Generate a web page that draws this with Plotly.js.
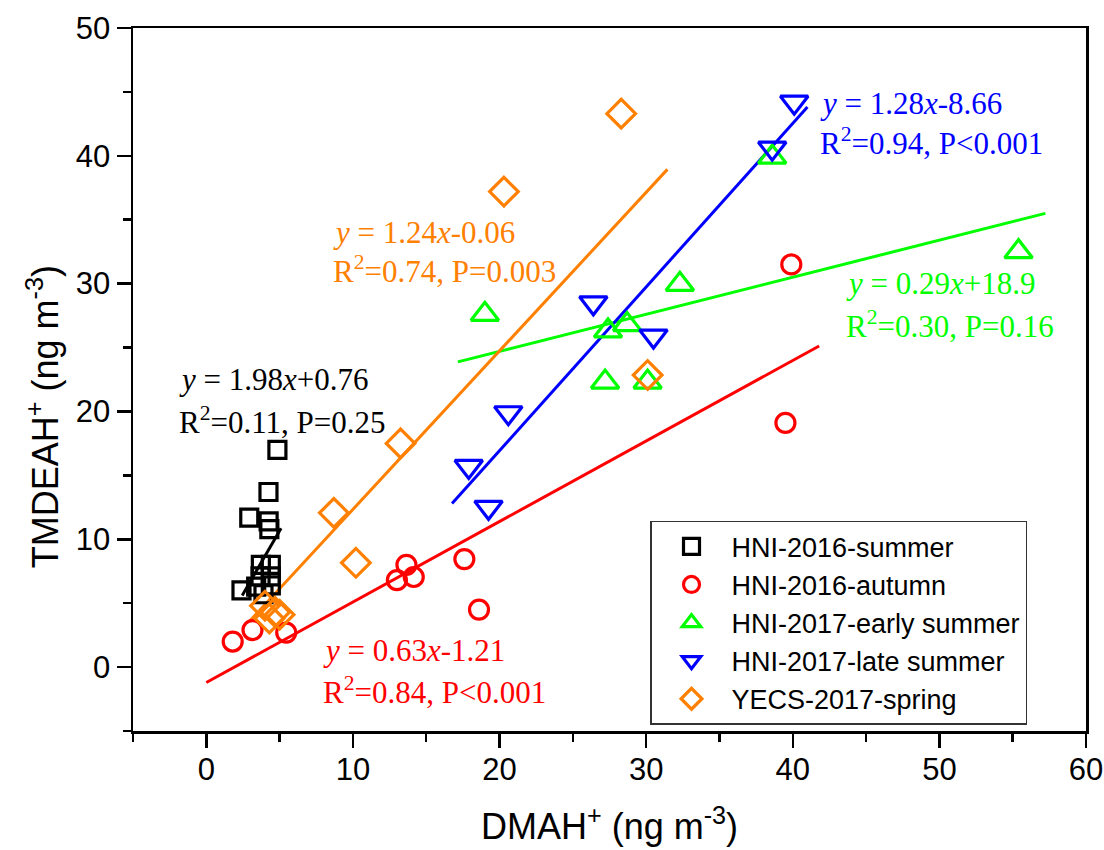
<!DOCTYPE html>
<html>
<head>
<meta charset="utf-8">
<script src="https://cdn.plot.ly/plotly-3.0.1.min.js"></script>
<style>html,body{margin:0;padding:0;background:#fff;}#chart{width:1104px;height:850px;}</style>
</head>
<body>
<div id="chart"></div>
<script>
// ---- Data ----
const seriesNames = ["HNI-2016-summer", "HNI-2016-autumn", "HNI-2017-early summer", "HNI-2017-late summer", "YECS-2017-spring"];

const summer16X = [4.85, 4.24, 2.93, 4.25, 4.3, 3.72, 4.4, 3.7, 4.4, 2.4, 3.4, 4.4, 3.9];
const summer16Y = [17.0, 13.7, 11.7, 11.4, 10.8, 8.0, 8.0, 7.1, 7.1, 6.0, 6.3, 6.4, 5.7];

const autumn16X = [1.8, 3.15, 5.45, 13.0, 13.65, 14.15, 17.6, 18.6, 39.9, 39.5];
const autumn16Y = [2.0, 2.9, 2.7, 6.8, 8.0, 7.05, 8.45, 4.5, 31.5, 19.1];

const early17X = [19.0, 32.3, 27.4, 28.7, 27.2, 30.1, 38.6, 55.4];
const early17Y = [27.6, 29.95, 26.3, 26.8, 22.3, 22.3, 39.9, 32.5];

const late17X = [26.4, 30.5, 20.6, 17.9, 19.25, 40.1, 38.6];
const late17Y = [28.5, 25.9, 19.9, 15.7, 12.5, 44.2, 40.6];

const yecsX = [28.3, 20.3, 30.1, 13.25, 8.7, 10.2, 4.0, 4.7, 4.3, 5.0];
const yecsY = [43.3, 37.2, 22.85, 17.5, 12.07, 8.16, 4.8, 4.3, 3.8, 4.1];

// Fitted line end points
const fitSummer16X = [2.45, 5.1],  fitSummer16Y = [5.61, 10.86];
const fitAutumn16X = [0, 41.8],    fitAutumn16Y = [-1.21, 25.12];
const fitEarly17X  = [17.16, 57.23], fitEarly17Y = [23.88, 35.5];
const fitLate17X   = [16.76, 41.0],  fitLate17Y  = [12.79, 43.82];
const fitYecsX     = [2.93, 31.45],  fitYecsY    = [3.57, 38.94];

const eqTexts = [
  ["<i>y</i> = 1.98<i>x</i>+0.76", "R<sup>2</sup>=0.11, P=0.25"],
  ["<i>y</i> = 0.63<i>x</i>-1.21", "R<sup>2</sup>=0.84, P<0.001"],
  ["<i>y</i> = 0.29<i>x</i>+18.9", "R<sup>2</sup>=0.30, P=0.16"],
  ["<i>y</i> = 1.28<i>x</i>-8.66", "R<sup>2</sup>=0.94, P<0.001"],
  ["<i>y</i> = 1.24<i>x</i>-0.06", "R<sup>2</sup>=0.74, P=0.003"]
];

const xTitle = "DMAH<sup>+</sup> (ng m<sup>-3</sup>)";
const yTitle = "TMDEAH<sup>+</sup> (ng m<sup>-3</sup>)";

// ---- Styles ----
const colors = ["#000000", "#ff0000", "#00ff00", "#0000ff", "#ff8000"];
const symbols = ["square-open", "circle-open", "triangle-up-open", "triangle-down-open", "diamond-open"];
const sizes = [17, 19, 24, 24, 22];
const eqPos = [[-2.0, 22.5, 19.3], [7.8, 1.3, -1.8], [43.5, 30.0, 26.8], [41.7, 44.1, 41.1], [8.5, 34.0, 31.1]];

const ptsX = [summer16X, autumn16X, early17X, late17X, yecsX];
const ptsY = [summer16Y, autumn16Y, early17Y, late17Y, yecsY];
const fitX = [fitSummer16X, fitAutumn16X, fitEarly17X, fitLate17X, fitYecsX];
const fitY = [fitSummer16Y, fitAutumn16Y, fitEarly17Y, fitLate17Y, fitYecsY];

const traces = [];
for (let i = 0; i < 5; i++) {
  traces.push({
    x: fitX[i], y: fitY[i], mode: "lines", type: "scatter", showlegend: false,
    line: {color: colors[i], width: 3}, hoverinfo: "skip"
  });
}
for (let i = 0; i < 5; i++) {
  traces.push({
    x: ptsX[i], y: ptsY[i], mode: "markers", type: "scatter", name: seriesNames[i],
    marker: {symbol: symbols[i], size: sizes[i], color: colors[i], line: {color: colors[i], width: 3.2}}
  });
}

const sansFont = "Liberation Sans, Arial, sans-serif";
const annotations = [];
for (let i = 0; i < 5; i++) {
  for (let k = 0; k < 2; k++) {
    annotations.push({
      x: eqPos[i][0], y: eqPos[i][1 + k], xref: "x", yref: "y",
      text: eqTexts[i][k], showarrow: false, xanchor: "left", yanchor: "middle",
      font: {family: "Liberation Serif, Times New Roman, serif", size: 31, color: colors[i]}
    });
  }
}
// y-axis title placed as rotated text
annotations.push({
  x: -0.095, y: 0.447, xref: "paper", yref: "paper", textangle: -90,
  text: yTitle, showarrow: false, xanchor: "center", yanchor: "middle",
  font: {family: sansFont, size: 36, color: "#000"}
});

const axisCommon = {
  showline: true, linecolor: "#000", linewidth: 2.5, mirror: true,
  ticks: "outside", ticklen: 14, tickwidth: 2.5, tickcolor: "#000",
  showgrid: false, zeroline: false,
  tickfont: {family: sansFont, size: 31, color: "#000"},
  minor: {ticks: "outside", ticklen: 8, tickwidth: 2.5, tickcolor: "#000", dtick: 5, showgrid: false}
};

const layout = {
  width: 1104, height: 850,
  paper_bgcolor: "#fff", plot_bgcolor: "#fff",
  margin: {l: 133, r: 18, t: 28, b: 119},
  showlegend: true,
  xaxis: Object.assign({}, axisCommon, {
    range: [-5, 60.001], dtick: 10, tick0: 0, ticklabelstandoff: -5,
    title: {text: xTitle, font: {family: sansFont, size: 36, color: "#000"}, standoff: 28}
  }),
  yaxis: Object.assign({}, axisCommon, {
    range: [-5, 50.001], dtick: 10, tick0: 0
  }),
  legend: {
    x: 0.5425, y: 0.299, xanchor: "left", yanchor: "top",
    bgcolor: "#fff", bordercolor: "#333", borderwidth: 1.5,
    font: {family: sansFont, size: 27, color: "#000"},
    itemwidth: 70, entrywidth: 345, entrywidthmode: "pixels",
    tracegroupgap: 0
  },
  annotations: annotations
};

Plotly.newPlot("chart", traces, layout, {displayModeBar: false, staticPlot: true});
</script>
</body>
</html>
